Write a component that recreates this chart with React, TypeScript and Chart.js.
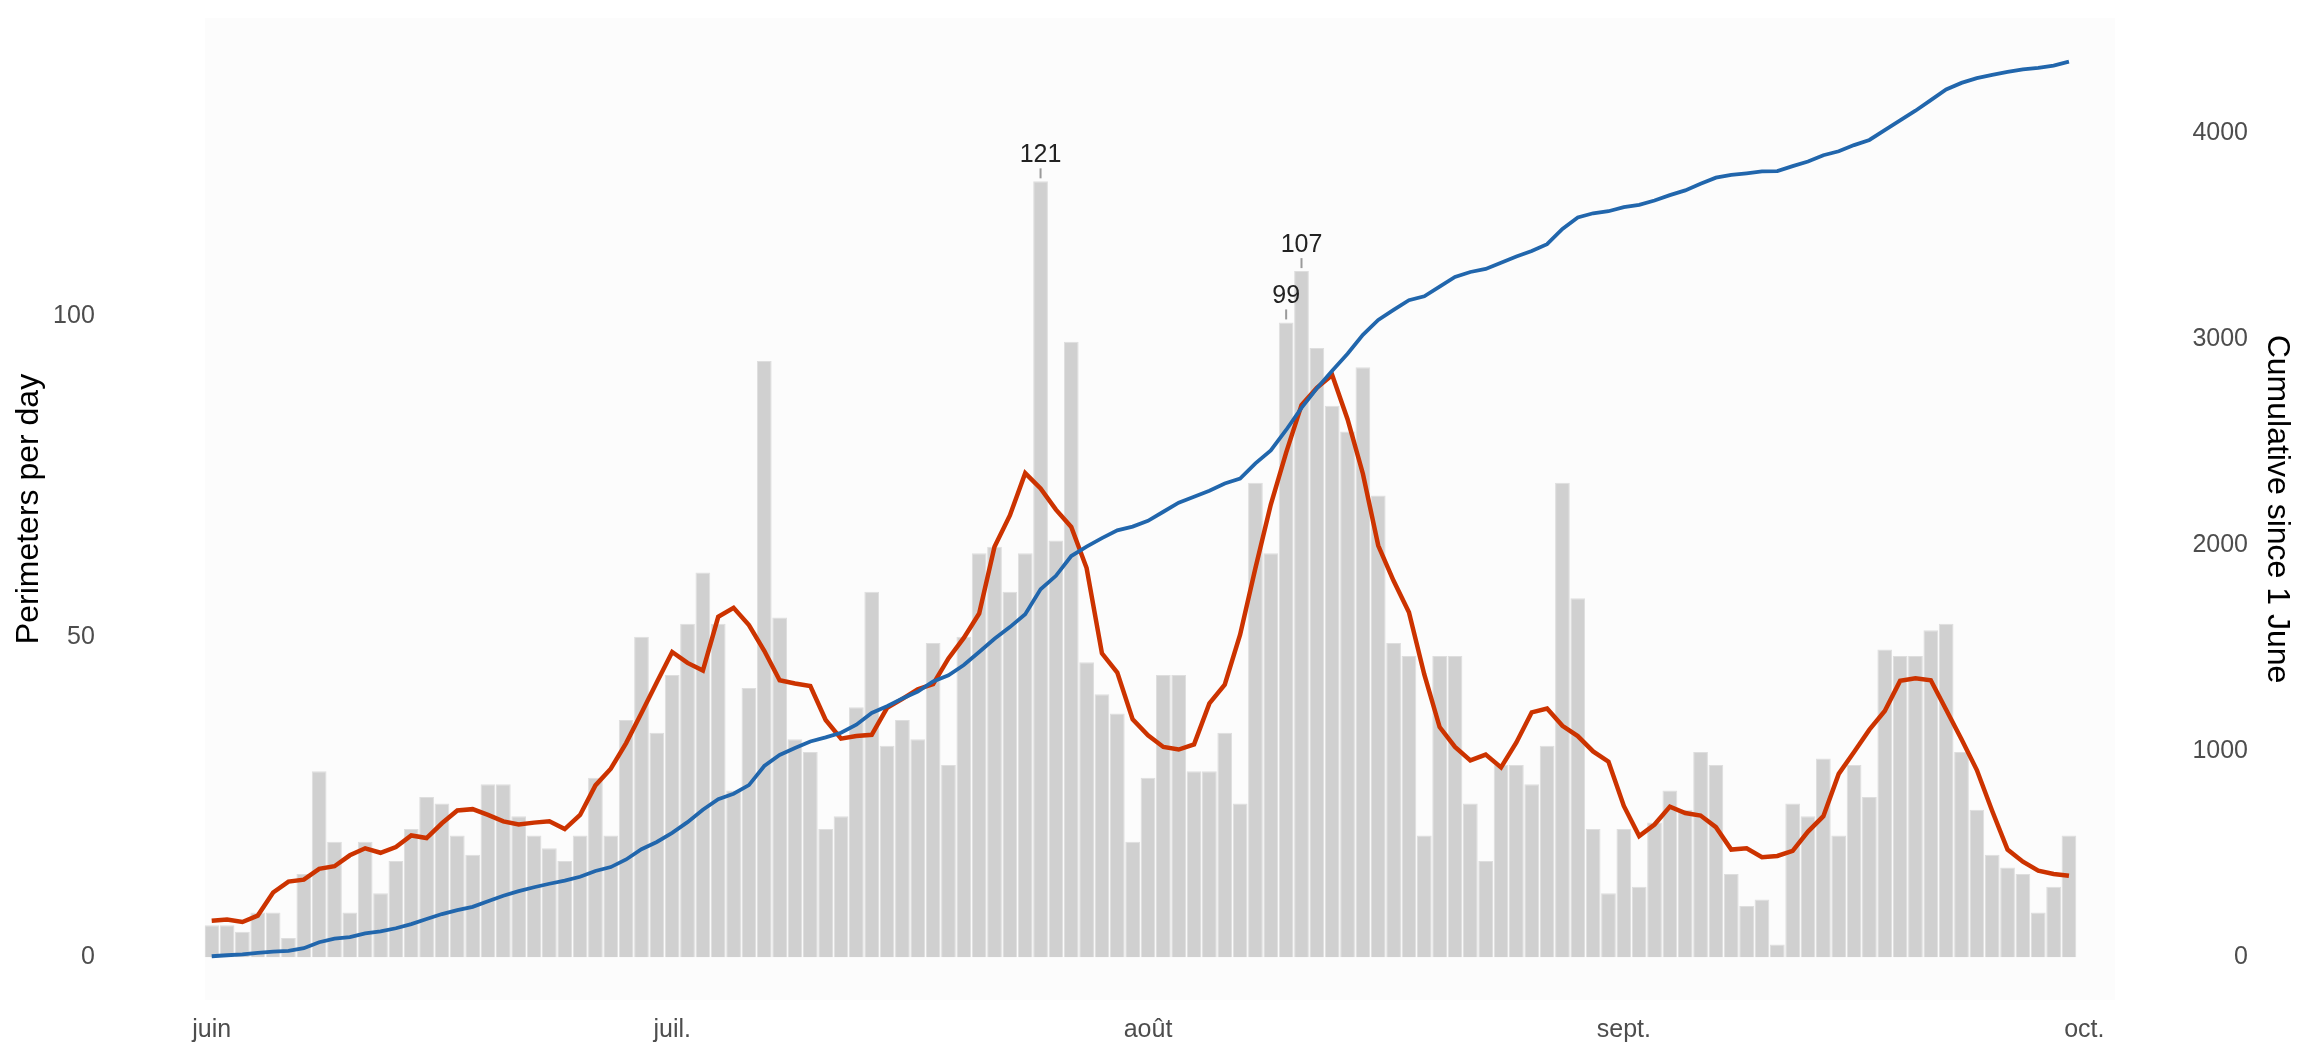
import { useEffect, useRef } from "react"
import { Chart, registerables } from "chart.js"

Chart.register(...registerables)

// daily perimeters, 1 June to 30 September
const dailyPerimeters = [
  5, 5, 4, 7, 7, 3, 13, 29, 18, 7,
  18, 10, 15, 20, 25, 24, 19, 16, 27, 27,
  22, 19, 17, 15, 19, 28, 19, 37, 50, 35,
  44, 52, 60, 52, 26, 42, 93, 53, 34, 32,
  20, 22, 39, 57, 33, 37, 34, 49, 30, 50,
  63, 64, 57, 63, 121, 65, 96, 46, 41, 38,
  18, 28, 44, 44, 29, 29, 35, 24, 74, 63,
  99, 107, 95, 86, 82, 92, 72, 49, 47, 19,
  47, 47, 24, 15, 30, 30, 27, 33, 74, 56,
  20, 10, 20, 11, 21, 26, 23, 32, 30, 13,
  8, 9, 2, 24, 22, 31, 19, 30, 25, 48,
  47, 47, 51, 52, 32, 23, 16, 14, 13, 7,
  11, 19,
]

// red line (rolling mean)
const rollingAverage = [
  5.7, 5.9, 5.5, 6.5, 10.1, 11.8, 12.1, 13.8, 14.2, 15.9,
  17.0, 16.3, 17.2, 19.0, 18.6, 20.9, 22.9, 23.1, 22.2, 21.2,
  20.7, 21.0, 21.2, 20.0, 22.2, 26.8, 29.4, 33.4, 38.1, 42.9,
  47.6, 45.9, 44.7, 53.1, 54.5, 51.8, 47.8, 43.2, 42.7, 42.3,
  37.0, 34.1, 34.5, 34.7, 38.9, 40.3, 41.8, 42.6, 46.6, 49.8,
  53.6, 64.0, 68.9, 75.5, 73.1, 69.8, 67.1, 60.7, 47.4, 44.4,
  37.1, 34.6, 32.8, 32.4, 33.2, 39.6, 42.5, 50.3, 60.7, 70.6,
  78.7, 86.1, 88.8, 90.8, 83.9, 75.4, 64.2, 58.7, 53.8, 44.1,
  35.9, 32.8, 30.7, 31.6, 29.6, 33.5, 38.2, 38.8, 36.1, 34.5,
  32.1, 30.5, 23.6, 18.9, 20.7, 23.5, 22.5, 22.1, 20.3, 16.8,
  17.0, 15.6, 15.8, 16.6, 19.6, 22.0, 28.6, 32.0, 35.5, 38.4,
  43.1, 43.5, 43.2, 38.6, 34.0, 29.2, 22.8, 16.8, 14.9, 13.5,
  13.0, 12.7,
]

// blue line, cumulative since 1 June
const cumulativeTotal = [
  5, 10, 14, 21, 28, 31, 44, 73, 91, 98,
  116, 126, 141, 161, 186, 210, 229, 245, 272, 299,
  321, 340, 357, 372, 391, 419, 438, 475, 525, 560,
  604, 656, 716, 768, 794, 836, 929, 982, 1016, 1048,
  1068, 1090, 1129, 1186, 1219, 1256, 1290, 1339, 1369, 1419,
  1482, 1546, 1603, 1666, 1787, 1852, 1948, 1994, 2035, 2073,
  2091, 2119, 2163, 2207, 2236, 2265, 2300, 2324, 2398, 2461,
  2560, 2667, 2762, 2848, 2930, 3022, 3094, 3143, 3190, 3209,
  3256, 3303, 3327, 3342, 3372, 3402, 3429, 3462, 3536, 3592,
  3612, 3622, 3642, 3653, 3674, 3700, 3723, 3755, 3785, 3798,
  3806, 3815, 3817, 3841, 3863, 3894, 3913, 3943, 3968, 4016,
  4063, 4110, 4161, 4213, 4245, 4268, 4284, 4298, 4311, 4318,
  4329, 4348,
]

const monthTickDays = [1, 31, 62, 93, 123]
const monthLabels = ["juin", "juil.", "août", "sept.", "oct."]
const leftTicks = [0, 50, 100]
const rightTicks = [0, 1000, 2000, 3000, 4000]
const labelledDays = [55, 71, 72]

const FONT = "'Liberation Sans', Arial, Helvetica, sans-serif"
const toPoints = (values: number[]) => values.map((y, i) => ({ x: i + 1, y }))

const panelPlugin = {
  id: "panel",
  beforeDraw(chart: any) {
    const { ctx, chartArea: a } = chart
    ctx.save()
    ctx.fillStyle = "#fcfcfc"
    ctx.fillRect(a.left, a.top, a.right - a.left, a.bottom - a.top)
    ctx.restore()
  },
  afterDraw(chart: any) {
    const { ctx, chartArea: a, scales } = chart
    ctx.save()
    // y axis labels: both right aligned, as in the original
    ctx.font = `25px ${FONT}`
    ctx.fillStyle = "#4d4d4d"
    ctx.textAlign = "right"
    ctx.textBaseline = "middle"
    leftTicks.forEach((v) => {
      ctx.fillText(String(v), a.left - 110, scales.y.getPixelForValue(v))
    })
    rightTicks.forEach((v) => {
      ctx.fillText(String(v), a.right + 133, scales.yRight.getPixelForValue(v))
    })
    // peak labels
    labelledDays.forEach((day) => {
      const value = dailyPerimeters[day - 1]
      const x = scales.x.getPixelForValue(day)
      const top = scales.y.getPixelForValue(value)
      ctx.strokeStyle = "#9a9a9a"
      ctx.lineWidth = 2
      ctx.beginPath()
      ctx.moveTo(x, top - 3)
      ctx.lineTo(x, top - 13)
      ctx.stroke()
      ctx.fillStyle = "#222222"
      ctx.textAlign = "center"
      ctx.fillText(String(value), x, top - 26)
    })
    ctx.restore()
  },
}

export default function App() {
  const chartRef = useRef<HTMLCanvasElement | null>(null)
  const chartInstance = useRef<Chart | null>(null)

  useEffect(() => {
    document.body.style.margin = "0"
    if (!chartRef.current) return
    if (chartInstance.current) chartInstance.current.destroy()

    const ctx = chartRef.current.getContext("2d")
    chartInstance.current = new Chart(ctx as CanvasRenderingContext2D, {
      type: "bar",
      data: {
        datasets: [
          {
            type: "line",
            label: "Cumulative",
            data: toPoints(cumulativeTotal),
            yAxisID: "yRight",
            borderColor: "#2166ac",
            borderWidth: 3.8,
            pointRadius: 0,
            tension: 0,
            order: 1,
          },
          {
            type: "line",
            label: "Rolling mean",
            data: toPoints(rollingAverage),
            yAxisID: "y",
            borderColor: "#cc3300",
            borderWidth: 4.5,
            pointRadius: 0,
            tension: 0,
            order: 2,
          },
          {
            type: "bar",
            label: "Perimeters per day",
            data: toPoints(dailyPerimeters),
            yAxisID: "y",
            backgroundColor: "#d0d0d0",
            borderColor: "#dedede",
            borderWidth: 1,
            barPercentage: 0.96,
            categoryPercentage: 1,
            order: 3,
          },
        ] as any,
      },
      options: {
        animation: false,
        responsive: true,
        maintainAspectRatio: false,
        layout: { padding: { top: 18, left: 0, right: 0, bottom: 0 } },
        plugins: {
          legend: { display: false },
          tooltip: { enabled: false },
        },
        scales: {
          x: {
            type: "linear",
            offset: false,
            min: 0.55,
            max: 125,
            grid: { display: false, drawTicks: false },
            border: { display: false },
            afterBuildTicks: (scale: any) => {
              scale.ticks = monthTickDays.map((value) => ({ value }))
            },
            afterFit: (scale: any) => {
              scale.height = 56
            },
            ticks: {
              autoSkip: false,
              maxRotation: 0,
              padding: 15,
              color: "#4d4d4d",
              font: { family: FONT, size: 25 },
              callback: (value: any) => monthLabels[monthTickDays.indexOf(Number(value))] ?? "",
            },
          },
          y: {
            position: "left",
            min: -6.66,
            max: 146.47,
            grid: { display: false, drawTicks: false },
            border: { display: false },
            afterBuildTicks: (scale: any) => {
              scale.ticks = leftTicks.map((value) => ({ value }))
            },
            afterFit: (scale: any) => {
              scale.width = 204.8
            },
            ticks: { display: false },
            title: {
              display: true,
              text: "Perimeters per day",
              color: "#000000",
              padding: { top: 10, bottom: 0 },
              font: { family: FONT, size: 32 },
            },
          },
          yRight: {
            position: "right",
            min: -207.3,
            max: 4560,
            grid: { display: false, drawTicks: false },
            border: { display: false },
            afterBuildTicks: (scale: any) => {
              scale.ticks = rightTicks.map((value) => ({ value }))
            },
            afterFit: (scale: any) => {
              scale.width = 189
            },
            ticks: { display: false },
            title: {
              display: true,
              text: "Cumulative since 1 June",
              color: "#000000",
              padding: { top: 8, bottom: 0 },
              font: { family: FONT, size: 32 },
            },
          },
        },
      },
      plugins: [panelPlugin],
    })

    return () => {
      if (chartInstance.current) {
        chartInstance.current.destroy()
        chartInstance.current = null
      }
    }
  }, [])

  return (
    <div style={{ width: "2304px", height: "1056px", position: "relative" }}>
      <canvas ref={chartRef} />
    </div>
  )
}
